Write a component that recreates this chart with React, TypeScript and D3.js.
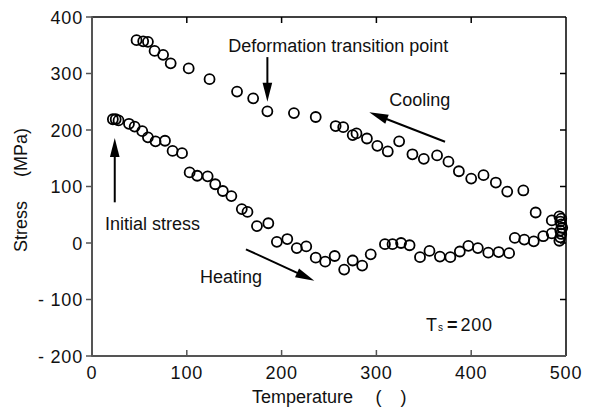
import React from "react";
import * as d3 from "d3";

// Stress history measured during the heating and cooling cycle
const heatingTemp = [22, 25, 28, 39, 45, 53, 59, 67, 77, 85, 95, 103, 111, 122, 130, 138, 147, 158, 164, 174, 186, 195, 206, 216, 226, 236, 246, 256, 266, 275, 285, 294, 309, 317, 326, 335, 346, 356, 367, 378, 388, 397, 407, 418, 429, 440, 446, 456, 466, 476, 485, 493, 494, 495, 494, 496, 495];
const heatingStress = [219, 219, 217, 211, 206, 198, 187, 180, 181, 163, 159, 125, 119, 118, 104, 92, 83, 60, 55, 30, 35, 2, 7, -9, -6, -26, -33, -23, -47, -31, -40, -20, -2, -2, 0, -4, -25, -14, -24, -25, -15, -5, -9, -17, -16, -18, 9, 6, 3, 12, 17, 4, 10, 16, 22, 27, 33];

const coolingTemp = [47, 54, 59, 66, 75, 83, 102, 124, 153, 170, 185, 213, 236, 257, 265, 275, 279, 290, 301, 312, 324, 338, 350, 364, 376, 387, 400, 413, 426, 438, 455, 468, 485, 494, 495, 493];
const coolingStress = [359, 357, 356, 340, 333, 318, 309, 290, 268, 256, 233, 230, 223, 207, 205, 191, 194, 185, 172, 162, 180, 157, 149, 155, 144, 127, 114, 120, 107, 91, 93, 54, 40, 38, 43, 47];

const xTicks = [0, 100, 200, 300, 400, 500];
const yTicks = [400, 300, 200, 100, 0, -100, -200];
const yTickLabels = ["400", "300", "200", "100", "0", "- 100", "- 200"];

const W = 595;
const H = 410;
const FONT = "'Liberation Sans', Arial, Helvetica, sans-serif";

const x = d3.scaleLinear().domain([0, 500]).range([92, 566]);
const y = d3.scaleLinear().domain([-200, 400]).range([356, 17]);

type Arrow = { t0: number; s0: number; t1: number; s1: number };

// arrows: tail (t0, s0) -> head (t1, s1), in data units
const arrows: Arrow[] = [
  { t0: 24, s0: 72, t1: 24, s1: 186 },
  { t0: 185, s0: 329, t1: 185, s1: 250 },
  { t0: 372.4, s0: 179.3, t1: 292.5, s1: 231.3 },
  { t0: 162.4, s0: -11.2, t1: 234.5, s1: -66.7 },
];

function ArrowMark({ a }: { a: Arrow }) {
  const x0 = x(a.t0), y0 = y(a.s0), x1 = x(a.t1), y1 = y(a.s1);
  const dx = x1 - x0, dy = y1 - y0;
  const len = Math.hypot(dx, dy);
  const ux = dx / len, uy = dy / len;
  const headLen = 19, halfW = 4.8;
  const bx = x1 - ux * headLen, by = y1 - uy * headLen;
  const px = -uy, py = ux;
  const pts = [
    [x1, y1],
    [bx + px * halfW, by + py * halfW],
    [bx - px * halfW, by - py * halfW],
  ];
  return (
    <g>
      <line x1={x0} y1={y0} x2={bx + ux * 2} y2={by + uy * 2} stroke="#000" strokeWidth={2} />
      <polygon points={pts.map((p) => p.join(",")).join(" ")} fill="#000" />
    </g>
  );
}

export default function App() {
  const r = 5;
  const heating = heatingTemp.map((t, i) => [t, heatingStress[i]]);
  const cooling = coolingTemp.map((t, i) => [t, coolingStress[i]]);
  const [x0, x1] = x.range();
  const [yb, yt] = y.range();

  return (
    <svg
      width={W}
      height={H}
      viewBox={`0 0 ${W} ${H}`}
      style={{ position: "absolute", left: 0, top: 0, background: "#fff" }}
      fontFamily={FONT}
    >
      <rect x={0} y={0} width={W} height={H} fill="#fff" />

      {/* frame: top and right in black, left and bottom axes in grey */}
      <line x1={x0} y1={yt} x2={x1} y2={yt} stroke="#000" strokeWidth={1.5} />
      <line x1={x1} y1={yt} x2={x1} y2={yb} stroke="#000" strokeWidth={1.5} />
      <line x1={x0} y1={yt - 0.75} x2={x0} y2={yb + 0.75} stroke="#555" strokeWidth={2} />
      <line x1={x0} y1={yb} x2={x1} y2={yb} stroke="#555" strokeWidth={2} />

      {/* x ticks (inner, top and bottom) */}
      {xTicks.slice(1, -1).map((v) => (
        <g key={"xt" + v}>
          <line x1={x(v)} x2={x(v)} y1={yb} y2={yb - 6} stroke="#555" strokeWidth={1.5} />
          <line x1={x(v)} x2={x(v)} y1={yt} y2={yt + 6} stroke="#000" strokeWidth={1.5} />
        </g>
      ))}
      {/* y ticks: outward on the left, inward on the right */}
      {yTicks.map((v) => (
        <line key={"yl" + v} x1={x0 - 6} x2={x0} y1={y(v)} y2={y(v)} stroke="#555" strokeWidth={1.5} />
      ))}
      {yTicks.slice(1, -1).map((v) => (
        <line key={"yr" + v} x1={x1 - 6} x2={x1} y1={y(v)} y2={y(v)} stroke="#000" strokeWidth={1.5} />
      ))}

      {/* tick labels */}
      {xTicks.map((v) => (
        <text key={"xl" + v} x={x(v)} y={379} textAnchor="middle" fontSize={18} letterSpacing={0.8} fill="#111">
          {String(v)}
        </text>
      ))}
      {yTicks.map((v, i) => (
        <text
          key={"ylab" + v}
          x={83}
          y={y(v) + 6.5}
          textAnchor="end"
          fontSize={18}
          letterSpacing={0.8}
          fill="#111"
          style={{ whiteSpace: "pre" }}
        >
          {yTickLabels[i]}
        </text>
      ))}

      {/* axis titles */}
      <text x={252} y={403} fontSize={18} fill="#111">Temperature</text>
      <text x={375.5} y={403} fontSize={18} fill="#111">(</text>
      <text x={400.5} y={403} fontSize={18} fill="#111">)</text>
      <text transform="translate(27,252) rotate(-90)" fontSize={18} fill="#111">Stress</text>
      <text transform="translate(27,128) rotate(-90)" fontSize={18} fill="#111" textAnchor="end">(MPa)</text>

      {/* data */}
      {heating.map(([t, s], i) => (
        <circle key={"h" + i} cx={x(t)} cy={y(s)} r={r} fill="none" stroke="#000" strokeWidth={1.8} />
      ))}
      {cooling.map(([t, s], i) => (
        <circle key={"c" + i} cx={x(t)} cy={y(s)} r={r} fill="none" stroke="#000" strokeWidth={1.8} />
      ))}

      {/* annotations */}
      {arrows.map((a, i) => (
        <ArrowMark key={"a" + i} a={a} />
      ))}
      <text x={x(143.7)} y={y(337.7)} fontSize={18} fill="#111">Deformation transition point</text>
      <text x={x(313.6)} y={y(242)} fontSize={18} fill="#111">Cooling</text>
      <text x={x(114)} y={y(-70.8)} fontSize={18} fill="#111">Heating</text>
      <text x={x(13.7)} y={y(23)} fontSize={18} fill="#111">Initial stress</text>
      <text x={x(352.3)} y={y(-155.8)} fontSize={18} fill="#111">
        T<tspan fontSize={10} dx={1}>s</tspan>
        <tspan dx={4} fontWeight="bold">=</tspan>
        <tspan dx={3} letterSpacing={0.8}>200</tspan>
      </text>
    </svg>
  );
}
